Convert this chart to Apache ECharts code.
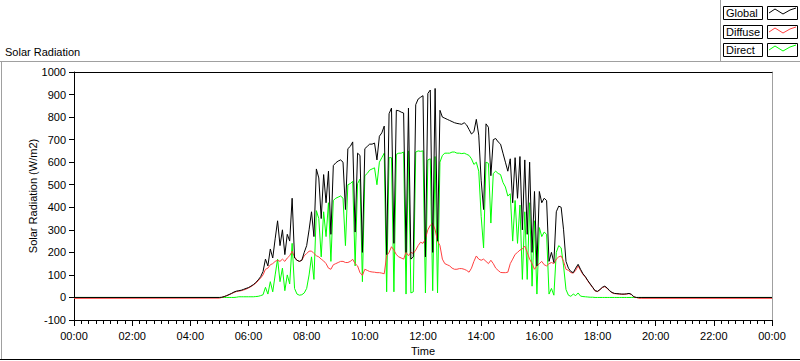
<!DOCTYPE html>
<html><head><meta charset="utf-8">
<script src="https://cdn.jsdelivr.net/npm/echarts@6/dist/echarts.min.js"></script>
<style>html,body{margin:0;padding:0;background:#fff}#c{width:800px;height:361px}</style>
</head><body><div id="c"></div>
<script>
// samples every 5 minutes from 05:00 to 19:30
const startMinute = 300;
const stepMinutes = 5;
const nightGlobal = 0, nightDiffuse = -4, nightDirect = 0;

const globalVals = [
  0,1,4,8,13,18,24,28,30,32,36,40,
  44,50,57,66,78,92,115,170,140,215,175,260,
  340,230,300,190,280,250,440,175,165,160,165,200,
  230,300,380,270,570,530,350,545,420,560,280,585,
  597,605,610,600,390,660,670,690,290,640,630,200,
  660,670,680,680,685,610,715,730,760,190,815,840,
  240,830,828,822,818,200,840,170,180,855,880,888,
  895,180,905,920,200,927,250,830,800,795,790,785,
  780,775,772,770,768,775,765,745,725,735,790,720,
  520,390,770,755,540,700,705,690,680,640,600,560,
  615,420,620,440,625,300,610,280,600,200,470,140,
  470,420,440,430,160,200,155,380,405,400,300,160,
  130,115,110,130,147,125,105,92,75,60,45,30,
  27,35,45,50,42,30,22,18,17,16,15,15,
  16,18,14,3,0,0,0
];
const diffuseVals = [
  -3,0,4,8,12,17,22,26,28,30,33,37,
  42,48,55,63,74,86,100,125,130,145,150,160,
  165,160,170,160,175,185,205,180,165,160,165,185,
  195,205,206,195,185,180,170,162,150,130,125,145,
  150,155,160,160,155,155,160,169,150,140,110,98,
  125,120,115,113,112,110,110,108,105,185,200,225,
  210,190,180,175,170,200,185,200,195,210,230,245,
  240,260,300,320,330,300,250,230,170,150,145,140,
  130,125,125,128,128,125,120,112,130,160,184,170,
  165,170,160,150,165,150,130,120,111,110,110,112,
  150,170,191,200,210,215,228,200,170,150,125,140,
  150,160,145,140,150,155,150,170,180,184,160,125,
  120,110,108,120,140,120,102,90,73,58,44,29,
  26,34,44,48,40,29,21,17,16,15,14,14,
  15,17,13,2,0,-4,-4
];
const directVals = [
  0,0,0,0,0,0,0,1,3,3,3,3,
  3,3,3,4,5,8,12,45,15,70,25,100,
  170,70,130,30,100,60,240,40,15,10,12,20,
  40,100,180,80,385,350,180,380,270,420,160,430,
  440,445,450,440,230,500,505,515,140,505,525,70,
  540,550,565,570,575,500,600,620,640,25,620,620,
  25,635,640,640,645,15,650,20,25,645,650,648,
  650,20,610,615,30,625,20,600,630,640,640,640,
  645,645,640,640,638,640,635,630,615,590,600,560,
  360,220,600,595,330,550,560,550,545,510,490,450,
  460,250,430,240,410,80,380,80,420,50,340,15,
  310,270,290,280,15,40,10,200,230,220,140,35,
  10,5,15,8,20,6,4,3,2,1,1,0,
  0,0,0,0,0,0,0,0,0,0,0,0,
  0,0,0,0,0,0,0
];
const xTickLabels = ['00:00','02:00','04:00','06:00','08:00','10:00','12:00','14:00','16:00','18:00','20:00','22:00','00:00'];
const seriesNames = ['Global','Diffuse','Direct'];
const seriesColors = ['#000000','#ff4040','#00ff00'];

function build(vals, night) {
  const d = [[0, night]];
  vals.forEach((v, i) => d.push([startMinute + i * stepMinutes, v]));
  d.push([1440, night]);
  return d;
}

const FONT = 'Liberation Sans';
const chart = echarts.init(document.getElementById('c'), null, {renderer: 'svg'});

const legendGraphics = [];
seriesNames.forEach((n, i) => {
  const by = Math.round(6 + i * 18.5);
  legendGraphics.push({type:'rect', shape:{x:723.5, y:by+0.5, width:39, height:13}, style:{fill:'#fff', stroke:'#000', lineWidth:1}});
  legendGraphics.push({type:'text', x:726, y:by+1.5, style:{text:n, font:'11px ' + FONT, fill:'#000'}});
  legendGraphics.push({type:'rect', shape:{x:767.5, y:by+0.5, width:30, height:13}, style:{fill:'#fff', stroke:'#000', lineWidth:1}});
  legendGraphics.push({type:'polyline', shape:{points:[[769,by+7],[775,by+3],[783,by+8],[790,by+4],[796,by+2]]}, style:{stroke:seriesColors[i], lineWidth:1, fill:null}});
});

chart.setOption({
  animation: false,
  backgroundColor: '#fff',
  textStyle: {fontFamily: FONT},
  grid: {left: 74, right: 28, top: 72, bottom: 40, show: false},
  xAxis: [{
    type: 'value', min: 0, max: 1440, interval: 120,
    name: 'Time', nameLocation: 'middle', nameGap: 25, nameMoveOverlap: false,
    nameTextStyle: {color:'#000', fontSize: 11, fontFamily: FONT},
    axisLine: {show: true, onZero: false, lineStyle: {color: '#000', width: 1}},
    axisTick: {show: true, length: 6, lineStyle: {color: '#000'}},
    minorTick: {show: true, splitNumber: 8, length: 4, lineStyle: {color: '#000'}},
    axisLabel: {color: '#000', fontSize: 11, fontFamily: FONT, margin: 10,
      formatter: v => xTickLabels[Math.round(v / 120)]},
    splitLine: {show: false}
  }, {
    type: 'value', min: 0, max: 1440, position: 'top',
    axisLine: {show: true, onZero: false, lineStyle: {color: '#000', width: 1}},
    axisTick: {show: false}, axisLabel: {show: false}, splitLine: {show: false}
  }],
  yAxis: [{
    type: 'value', min: -100, max: 1000, interval: 100,
    name: 'Solar Radiation (W/m2)', nameLocation: 'middle', nameGap: 36, nameMoveOverlap: false,
    nameTextStyle: {color:'#000', fontSize: 11, fontFamily: FONT},
    axisLine: {show: true, onZero: false, lineStyle: {color: '#000', width: 1}},
    axisTick: {show: true, length: 5, lineStyle: {color: '#000'}},
    axisLabel: {color: '#000', fontSize: 11, fontFamily: FONT, margin: 8,
      formatter: v => String(v)},
    splitLine: {show: false}
  }, {
    type: 'value', min: -100, max: 1000, position: 'right',
    axisLine: {show: true, onZero: false, lineStyle: {color: '#a0a0a0', width: 1}},
    axisTick: {show: false}, axisLabel: {show: false}, splitLine: {show: false}
  }],
  graphic: [
    {type:'line', shape:{x1:0, y1:61.5, x2:800, y2:61.5}, style:{stroke:'#a0a0a0', lineWidth:1}},
    {type:'line', shape:{x1:1.5, y1:61, x2:1.5, y2:359}, style:{stroke:'#a0a0a0', lineWidth:1}},
    {type:'line', shape:{x1:0, y1:359.5, x2:800, y2:359.5}, style:{stroke:'#000', lineWidth:1}},
    {type:'line', shape:{x1:720.5, y1:0, x2:720.5, y2:61}, style:{stroke:'#a0a0a0', lineWidth:1}},
    {type:'text', x:5, y:46, style:{text:'Solar Radiation', font:'11px ' + FONT, fill:'#000'}}
  ].concat(legendGraphics),
  series: [
    {name:'Direct', type:'line', data: build(directVals, nightDirect), showSymbol:false, symbol:'none',
     lineStyle:{color:seriesColors[2], width:1}, itemStyle:{color:seriesColors[2]}},
    {name:'Diffuse', type:'line', data: build(diffuseVals, nightDiffuse), showSymbol:false, symbol:'none',
     lineStyle:{color:seriesColors[1], width:1}, itemStyle:{color:seriesColors[1]}},
    {name:'Global', type:'line', data: build(globalVals, nightGlobal), showSymbol:false, symbol:'none',
     lineStyle:{color:seriesColors[0], width:1}, itemStyle:{color:seriesColors[0]}}
  ]
});
</script></body></html>
